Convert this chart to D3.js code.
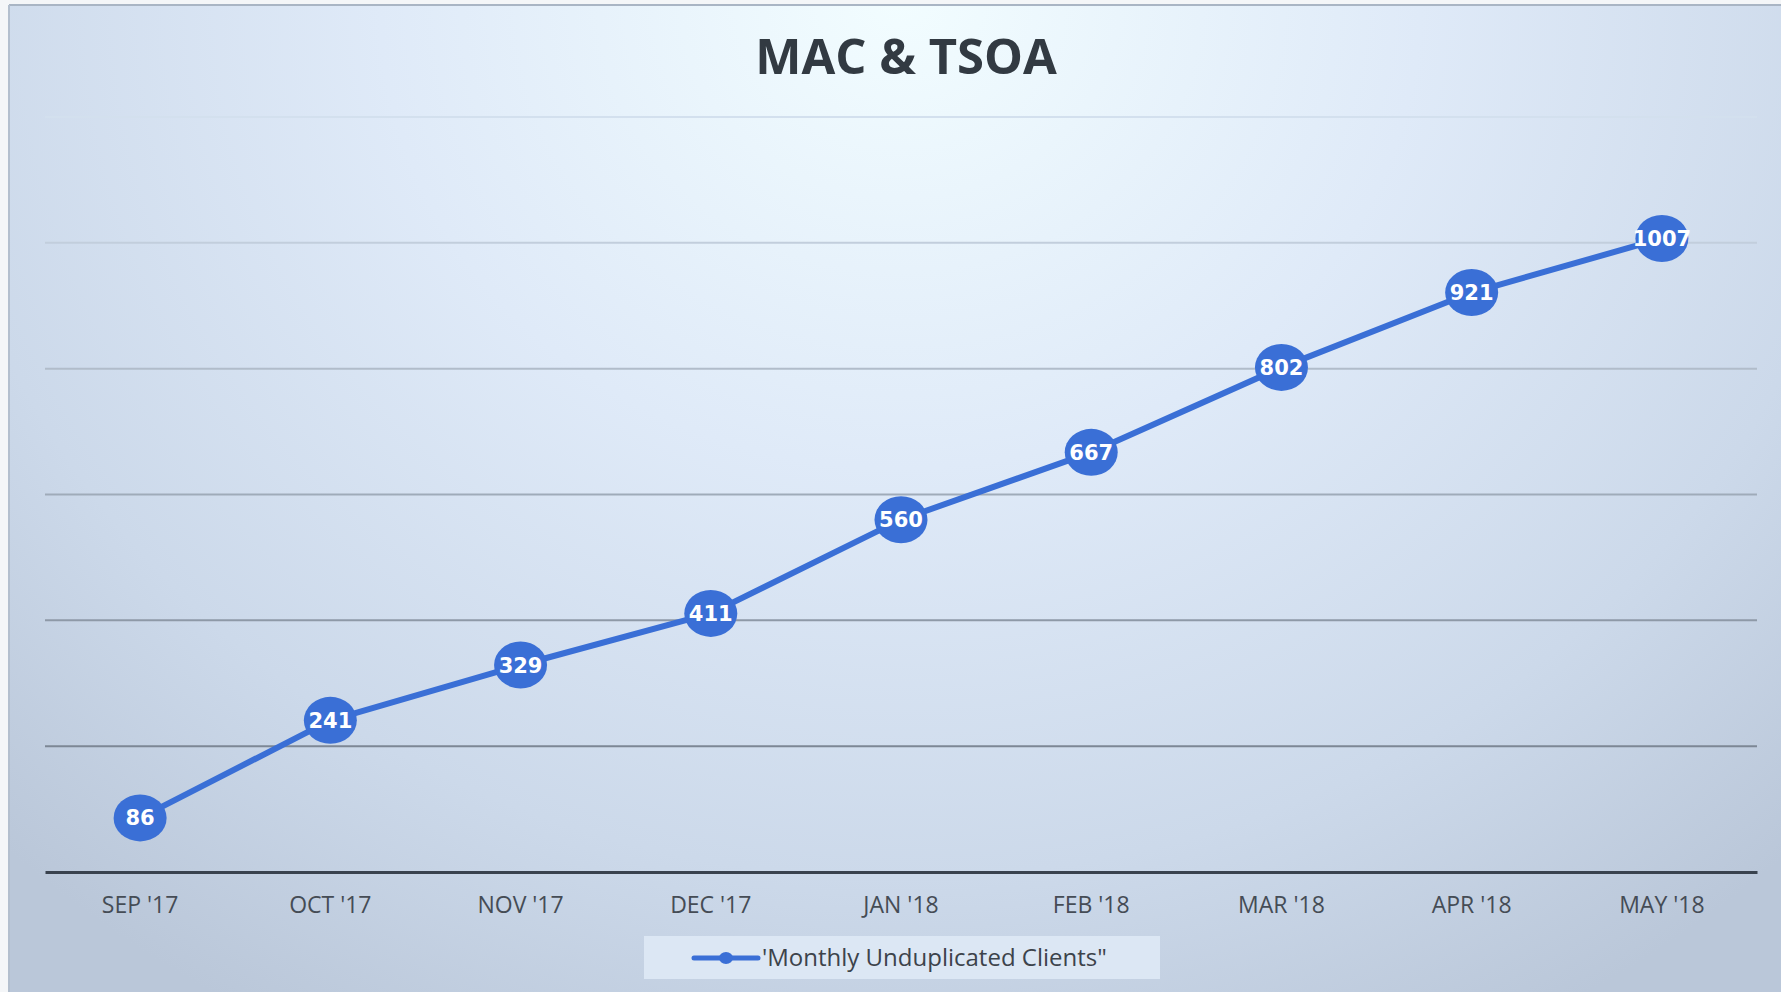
<!DOCTYPE html>
<html>
<head>
  <meta charset="UTF-8">
  <title>MAC &amp; TSOA</title>
  <script src="https://d3js.org/d3.v7.min.js"></script>
  <style>
    body { margin: 0; background: #f4f6f8; }
    .x-label { font-family: "Open Sans", sans-serif; font-size: 23px; fill: #454c55; }
    .value-label { font-family: "DejaVu Sans", Verdana, sans-serif; font-weight: bold; font-size: 21px; fill: #ffffff; }
    .title { font-family: "Open Sans", sans-serif; font-weight: bold; font-size: 49px; fill: #323a42; }
    .legend-text { font-family: "Open Sans", sans-serif; font-size: 24px; fill: #3c434b; }
  </style>
</head>
<body>
  <svg width="1781" height="992"></svg>

  <script>
    const months = ["SEP '17", "OCT '17", "NOV '17", "DEC '17", "JAN '18", "FEB '18", "MAR '18", "APR '18", "MAY '18"];
    const clients = [86, 241, 329, 411, 560, 667, 802, 921, 1007];
    const gridTicks = [200, 400, 600, 800, 1000, 1200];
    const seriesName = "'Monthly Unduplicated Clients\"";
    const chartTitle = "MAC & TSOA";

    const svg = d3.select("svg");
    const W = 1781, H = 992;
    const plot = { left: 45, right: 1757, top: 117, bottom: 872 };
    const blue = "#3a6fd6";

    // background
    const defs = svg.append("defs");
    const bg = defs.append("radialGradient")
      .attr("id", "bg")
      .attr("gradientUnits", "userSpaceOnUse")
      .attr("cx", 900).attr("cy", 0).attr("r", 1300)
      .attr("gradientTransform", "translate(900,0) scale(1,0.9) translate(-900,0)");
    bg.append("stop").attr("offset", "0%").attr("stop-color", "#f2fdff");
    bg.append("stop").attr("offset", "40%").attr("stop-color", "#dfeaf8");
    bg.append("stop").attr("offset", "75%").attr("stop-color", "#ccd9ea");
    bg.append("stop").attr("offset", "100%").attr("stop-color", "#bac7d9");

    svg.append("rect")
      .attr("x", 9).attr("y", 5)
      .attr("width", W - 9).attr("height", H - 5)
      .attr("fill", "url(#bg)");
    svg.append("line")
      .attr("x1", 9).attr("x2", W).attr("y1", 5).attr("y2", 5)
      .attr("stroke", "#a9b5c4").attr("stroke-width", 2);
    svg.append("line")
      .attr("x1", 9).attr("x2", 9).attr("y1", 5).attr("y2", H)
      .attr("stroke", "#b3bfce").attr("stroke-width", 2);

    const x = d3.scaleBand()
      .domain(months)
      .range([plot.left, plot.right])
      .padding(0);

    const y = d3.scaleLinear()
      .domain([0, 1200])
      .range([plot.bottom, plot.top]);

    const cx = d => x(d) + x.bandwidth() / 2;

    // gridlines, lighter towards the top
    const gridColor = d3.scaleLinear()
      .domain([200, 1200])
      .range(["#7d8795", "#d3e0ee"]);

    svg.append("g")
      .selectAll("line")
      .data(gridTicks)
      .join("line")
      .attr("x1", plot.left).attr("x2", plot.right)
      .attr("y1", d => y(d)).attr("y2", d => y(d))
      .attr("stroke", d => gridColor(d))
      .attr("stroke-width", 2);

    // x axis
    const xAxis = svg.append("g")
      .attr("transform", `translate(0,${plot.bottom})`)
      .call(d3.axisBottom(x).tickSize(0).tickPadding(25));
    xAxis.select(".domain")
      .attr("stroke", "#39424e")
      .attr("stroke-width", 3);
    xAxis.selectAll("text")
      .attr("class", "x-label")
      .attr("fill", null)
      .attr("font-size", null)
      .attr("font-family", null);

    // line
    const line = d3.line()
      .x((d, i) => cx(months[i]))
      .y(d => y(d));

    svg.append("path")
      .datum(clients)
      .attr("d", line)
      .attr("fill", "none")
      .attr("stroke", blue)
      .attr("stroke-width", 6)
      .attr("stroke-linejoin", "round");

    const pts = svg.append("g")
      .selectAll("g")
      .data(clients)
      .join("g")
      .attr("transform", (d, i) => `translate(${cx(months[i])},${y(d)})`);

    pts.append("ellipse")
      .attr("rx", 26.5).attr("ry", 23.5)
      .attr("fill", blue);

    pts.append("text")
      .attr("class", "value-label")
      .attr("text-anchor", "middle")
      .attr("dy", "0.36em")
      .text(d => d);

    // title
    svg.append("text")
      .attr("class", "title")
      .attr("x", 906).attr("y", 74)
      .attr("text-anchor", "middle")
      .text(chartTitle);

    // legend
    const lg = svg.append("g");
    lg.append("rect")
      .attr("x", 644).attr("y", 936)
      .attr("width", 516).attr("height", 43)
      .attr("fill", "#dce7f4");
    lg.append("line")
      .attr("x1", 694).attr("x2", 758)
      .attr("y1", 958).attr("y2", 958)
      .attr("stroke", blue).attr("stroke-width", 5)
      .attr("stroke-linecap", "round");
    lg.append("ellipse")
      .attr("cx", 726).attr("cy", 958)
      .attr("rx", 7).attr("ry", 6)
      .attr("fill", blue);
    lg.append("text")
      .attr("class", "legend-text")
      .attr("x", 762).attr("y", 966)
      .text(seriesName);
  </script>
</body>
</html>
